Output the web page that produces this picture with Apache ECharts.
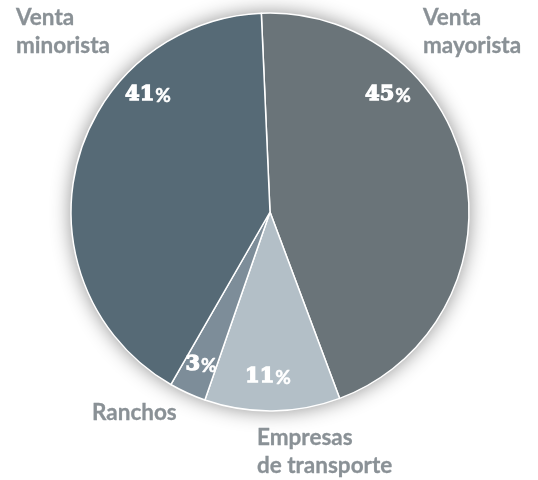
<!DOCTYPE html>
<html>
<head>
<meta charset="utf-8">
<script src="https://cdn.jsdelivr.net/npm/echarts@6/dist/echarts.min.js"></script>
<style>html,body{margin:0;padding:0;background:#fff;}#c{width:538px;height:480px;}</style>
</head>
<body>
<div id="c"></div>
<script>
var categories = ['Venta mayorista', 'Empresas de transporte', 'Ranchos', 'Venta minorista'];
var nameLines = [['Venta', 'mayorista'], ['Empresas', 'de transporte'], ['Ranchos'], ['Venta', 'minorista']];
var values = [45, 11, 3, 41];

var colors = ['#6a7479', '#b3bfc7', '#7d8d99', '#566a76'];
var pctPos = [[388, 95], [268, 377], [201, 365], [148, 95]];
var namePos = [[423, 32], [257, 452], [92, 413], [16, 32]];
var center = [270, 212], R = 199;

var chart = echarts.init(document.getElementById('c'), null, {renderer: 'canvas'});
var total = values.reduce(function (a, b) { return a + b; }, 0);

chart.setOption({
  animation: false,
  series: [
    {
      type: 'pie', silent: true, center: center, radius: R, z: 1,
      label: {show: false}, labelLine: {show: false},
      itemStyle: {color: '#fff', shadowBlur: 20, shadowColor: 'rgba(0,0,0,0.45)'},
      data: [{value: total, name: 'bg'}]
    },
    {
      type: 'pie', center: center, radius: R, startAngle: 92.5, clockwise: true, z: 2,
      itemStyle: {borderColor: '#fff', borderWidth: 1.5},
      data: categories.map(function (c, i) {
        return {name: c, value: values[i], itemStyle: {color: colors[i]}};
      }),
      label: {
        show: true, position: 'inside',
        formatter: function (p) { return '{n|' + p.value + '}{p|%}'; },
        rich: {
          n: {fontFamily: 'DejaVu Serif', fontWeight: 'bold', fontSize: 21, color: '#fff', textBorderColor: '#fff', textBorderWidth: 1.3},
          p: {fontFamily: 'Lato', fontWeight: 'bold', fontSize: 19, color: '#fff', padding: [1, 0, 0, 1], textBorderColor: '#fff', textBorderWidth: 0.5}
        }
      },
      labelLine: {show: false},
      labelLayout: function (p) {
        var q = pctPos[p.dataIndex];
        return {x: q[0], y: q[1], align: 'center', verticalAlign: 'middle'};
      }
    },
    {
      type: 'pie', silent: true, center: center, radius: R, startAngle: 92.5, z: 3,
      itemStyle: {color: 'rgba(0,0,0,0)'},
      data: categories.map(function (c, i) { return {name: c, value: values[i]}; }),
      label: {
        show: true, position: 'outside', overflow: 'none', alignTo: 'none',
        formatter: function (p) { return nameLines[p.dataIndex].join('\n'); },
        fontFamily: 'Lato', fontWeight: 'bold', fontSize: 22.5, lineHeight: 28, color: '#8a9196',
        textBorderColor: '#8a9196', textBorderWidth: 0.3
      },
      labelLine: {show: false},
      labelLayout: function (p) {
        var q = namePos[p.dataIndex];
        return {x: q[0], y: q[1], align: 'left', verticalAlign: 'middle'};
      }
    }
  ]
});
</script>
</body>
</html>
